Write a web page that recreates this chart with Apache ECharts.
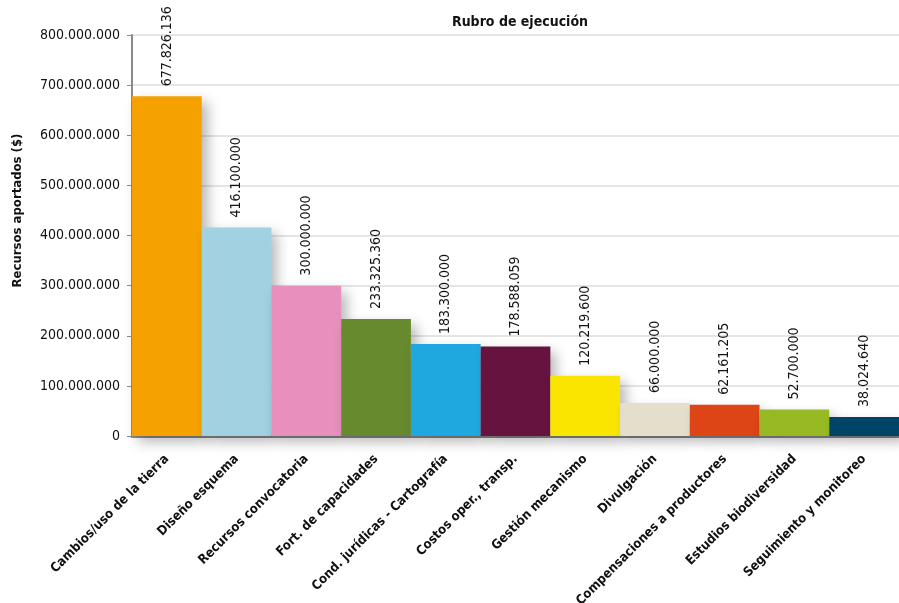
<!DOCTYPE html>
<html>
<head>
<meta charset="utf-8">
<script src="https://cdn.jsdelivr.net/npm/echarts@6/dist/echarts.min.js"></script>
<style>
  html, body { margin: 0; padding: 0; background: #fff; }
  #chart { width: 899px; height: 603px; }
</style>
</head>
<body>
<div id="chart"></div>
<script>
// Spending by budget line
const categories = [
  'Cambios/uso de la tierra',
  'Diseño esquema',
  'Recursos convocatoria',
  'Fort. de capacidades',
  'Cond. jurídicas - Cartografía',
  'Costos oper., transp.',
  'Gestión mecanismo',
  'Divulgación',
  'Compensaciones a productores',
  'Estudios biodiversidad',
  'Seguimiento y monitoreo'
];
const amounts = [677826136, 416100000, 300000000, 233325360, 183300000, 178588059,
                 120219600, 66000000, 62161205, 52700000, 38024640];
const barColors = ['#F5A200', '#A2D1E2', '#E790BE', '#688A2E', '#1FA8E0', '#66143F',
                   '#F9E500', '#E3DFCB', '#DD4416', '#96B924', '#004468'];
const yTicks = { min: 0, max: 800000000, interval: 100000000 };

const FONT = '"Liberation Sans Narrow", "DejaVu Sans Condensed", "Arial Narrow", sans-serif';
const fmt = v => String(Math.round(v)).replace(/\B(?=(\d{3})+(?!\d))/g, '.');

const chart = echarts.init(document.getElementById('chart'));
chart.setOption({
  animation: false,
  title: {
    text: 'Rubro de ejecución',
    left: 515, top: 10, textAlign: 'center',
    textStyle: { fontFamily: FONT, fontSize: 14, fontWeight: 'bold', color: '#111' }
  },
  grid: { left: 132, right: 0, top: 35, bottom: 167, containLabel: false, outerBoundsMode: 'none' },
  xAxis: {
    type: 'category',
    data: categories,
    axisLine: { lineStyle: { color: '#8a8a8a', width: 3 } },
    axisTick: { show: false },
    axisLabel: {
      interval: 0, rotate: 45, margin: 21,
      fontFamily: FONT, fontSize: 13, fontWeight: 'bold', color: '#111'
    }
  },
  yAxis: {
    type: 'value',
    min: yTicks.min, max: yTicks.max, interval: yTicks.interval,
    name: 'Recursos aportados ($)',
    nameLocation: 'middle',
    nameGap: 108,
    nameTextStyle: { fontFamily: FONT, fontSize: 13, fontWeight: 'bold', color: '#111', padding: [0, 0, 0, 50] },
    axisLine: { show: true, lineStyle: { color: '#8a8a8a', width: 2 } },
    axisTick: { show: true, length: 5, lineStyle: { color: '#8a8a8a' } },
    splitLine: { lineStyle: { color: '#dcdcdc', width: 1.5 } },
    axisLabel: {
      margin: 12, formatter: v => fmt(v),
      fontFamily: FONT, fontSize: 14, color: '#111'
    }
  },
  series: [{
    type: 'bar',
    barCategoryGap: '0%',
    data: amounts.map((v, i) => ({ value: v, itemStyle: { color: barColors[i] } })),
    itemStyle: {
      shadowBlur: 12, shadowColor: 'rgba(0,0,0,0.28)', shadowOffsetX: 6, shadowOffsetY: 6
    },
    label: {
      show: true, position: 'top', rotate: 90, align: 'left', verticalAlign: 'middle',
      distance: 10, formatter: p => fmt(p.value),
      fontFamily: FONT, fontSize: 14, color: '#111'
    }
  }]
});
</script>
</body>
</html>
